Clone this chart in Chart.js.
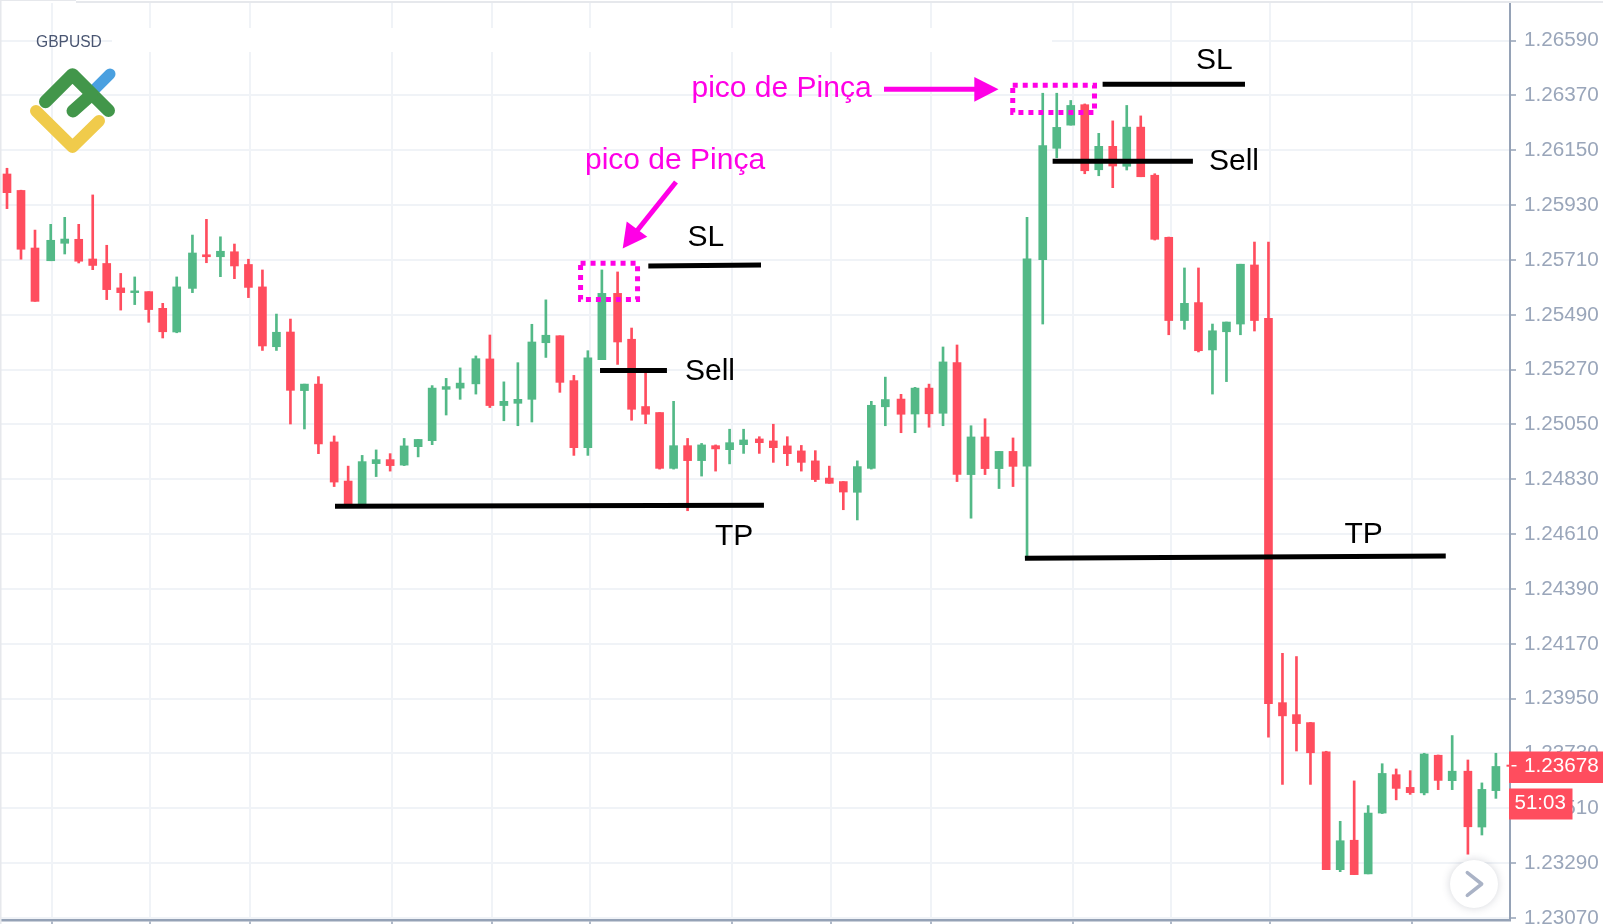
<!DOCTYPE html>
<html>
<head>
<meta charset="utf-8">
<title>GBPUSD</title>
<script src="https://cdn.jsdelivr.net/npm/chart.js@4/dist/chart.umd.min.js"></script>
<style>
  html, body { margin: 0; padding: 0; background: #fff; overflow: hidden; }
  #wrap { width: 1603px; height: 924px; }
  canvas { display: block; }
</style>
</head>
<body>
<div id="wrap"><canvas id="chart" width="1603" height="924"></canvas></div>
<script>
const opens = [
  1.26055, 1.25989, 1.25758, 1.25707, 1.25777, 1.25793, 1.25714, 1.25696, 1.25598, 1.25579,
  1.25583, 1.25516, 1.25421, 1.25596, 1.25731, 1.25723, 1.25743, 1.25692, 1.25602, 1.25362,
  1.25421, 1.25186, 1.25212, 1.24980, 1.24823, 1.24723, 1.24893, 1.24909, 1.24887, 1.24961,
  1.24985, 1.25191, 1.25196, 1.25213, 1.25313, 1.25126, 1.25135, 1.25151, 1.25378, 1.25406,
  1.25226, 1.24957, 1.25310, 1.25576, 1.25392, 1.25122, 1.25098, 1.24874, 1.24965, 1.24905,
  1.24965, 1.24949, 1.24969, 1.24992, 1.24984, 1.24964, 1.24944, 1.24904, 1.24835, 1.24821,
  1.24778, 1.24874, 1.25121, 1.25152, 1.25092, 1.25196, 1.25095, 1.25298, 1.24849, 1.25000,
  1.24873, 1.24942, 1.24883, 1.25711, 1.26158, 1.26251, 1.26333, 1.26072, 1.26166, 1.26086,
  1.26243, 1.26050, 1.25801, 1.25467, 1.25539, 1.25349, 1.25422, 1.25453, 1.25690, 1.25476,
  1.23934, 1.23886, 1.23854, 1.23737, 1.23264, 1.23382, 1.23247, 1.23491, 1.23645, 1.23594,
  1.23572, 1.23723, 1.23621, 1.23659, 1.23435, 1.23581
];
const highs = [
  1.26078, 1.25990, 1.25830, 1.25853, 1.25881, 1.25853, 1.25971, 1.25769, 1.25656, 1.25642,
  1.25583, 1.25536, 1.25642, 1.25810, 1.25873, 1.25803, 1.25774, 1.25713, 1.25670, 1.25493,
  1.25473, 1.25212, 1.25242, 1.25004, 1.24883, 1.24926, 1.24948, 1.24933, 1.24994, 1.24990,
  1.25206, 1.25235, 1.25277, 1.25325, 1.25409, 1.25221, 1.25298, 1.25452, 1.25550, 1.25406,
  1.25247, 1.25346, 1.25670, 1.25662, 1.25437, 1.25259, 1.25098, 1.25143, 1.24994, 1.24974,
  1.24968, 1.25031, 1.25031, 1.25001, 1.25051, 1.25001, 1.24966, 1.24945, 1.24883, 1.24821,
  1.24904, 1.25143, 1.25240, 1.25171, 1.25199, 1.25212, 1.25361, 1.25369, 1.25045, 1.25073,
  1.24942, 1.24996, 1.25881, 1.26379, 1.26379, 1.26350, 1.26336, 1.26218, 1.26268, 1.26330,
  1.26288, 1.26056, 1.25802, 1.25678, 1.25678, 1.25453, 1.25461, 1.25693, 1.25782, 1.25782,
  1.24132, 1.24119, 1.23855, 1.23739, 1.23458, 1.23620, 1.23521, 1.23689, 1.23668, 1.23661,
  1.23731, 1.23724, 1.23802, 1.23704, 1.23612, 1.23731
];
const lows = [
  1.25916, 1.25713, 1.25544, 1.25707, 1.25734, 1.25698, 1.25671, 1.25551, 1.25509, 1.25531,
  1.25460, 1.25397, 1.25418, 1.25579, 1.25699, 1.25643, 1.25635, 1.25559, 1.25347, 1.25347,
  1.25052, 1.25032, 1.24933, 1.24801, 1.24723, 1.24723, 1.24841, 1.24863, 1.24885, 1.24920,
  1.24969, 1.25088, 1.25151, 1.25172, 1.25118, 1.25065, 1.25045, 1.25060, 1.25319, 1.25179,
  1.24926, 1.24926, 1.25310, 1.25291, 1.25067, 1.25053, 1.24871, 1.24871, 1.24704, 1.24843,
  1.24863, 1.24892, 1.24934, 1.24934, 1.24898, 1.24885, 1.24863, 1.24821, 1.24814, 1.24708,
  1.24667, 1.24871, 1.25045, 1.25017, 1.25017, 1.25039, 1.25045, 1.24821, 1.24674, 1.24849,
  1.24793, 1.24801, 1.24513, 1.25453, 1.26120, 1.26251, 1.26056, 1.26048, 1.26000, 1.26071,
  1.26044, 1.25790, 1.25410, 1.25432, 1.25341, 1.25172, 1.25222, 1.25410, 1.25425, 1.23796,
  1.23606, 1.23740, 1.23606, 1.23264, 1.23256, 1.23244, 1.23247, 1.23489, 1.23544, 1.23566,
  1.23564, 1.23585, 1.23585, 1.23326, 1.23403, 1.23550
];
const closes = [
  1.25980, 1.25753, 1.25544, 1.25789, 1.25794, 1.25705, 1.25688, 1.25591, 1.25579, 1.25586,
  1.25511, 1.25422, 1.25602, 1.25738, 1.25723, 1.25745, 1.25686, 1.25600, 1.25365, 1.25420,
  1.25187, 1.25212, 1.24972, 1.24819, 1.24723, 1.24901, 1.24909, 1.24885, 1.24964, 1.24990,
  1.25196, 1.25202, 1.25216, 1.25314, 1.25126, 1.25143, 1.25151, 1.25381, 1.25408, 1.25219,
  1.24957, 1.25317, 1.25576, 1.25381, 1.25111, 1.25091, 1.24874, 1.24965, 1.24905, 1.24968,
  1.24952, 1.24977, 1.24988, 1.24977, 1.24957, 1.24933, 1.24898, 1.24829, 1.24814, 1.24779,
  1.24881, 1.25127, 1.25150, 1.25091, 1.25196, 1.25093, 1.25301, 1.24850, 1.25000, 1.24873,
  1.24942, 1.24882, 1.25715, 1.26169, 1.26242, 1.26330, 1.26068, 1.26166, 1.26087, 1.26243,
  1.26044, 1.25793, 1.25467, 1.25536, 1.25346, 1.25426, 1.25461, 1.25693, 1.25467, 1.23930,
  1.23881, 1.23850, 1.23733, 1.23264, 1.23380, 1.23244, 1.23491, 1.23650, 1.23590, 1.23573,
  1.23728, 1.23622, 1.23659, 1.23436, 1.23586, 1.23678
];

const priceTicks = [
  1.2659, 1.2637, 1.2615, 1.2593, 1.2571, 1.2549, 1.2527, 1.2505, 1.2483,
  1.2461, 1.2439, 1.2417, 1.2395, 1.2373, 1.2351, 1.2329, 1.2307
];
const dateGridSlots = [3.21, 10.21, 17.36, 27.5, 34.64, 41.64, 51.79, 58.86, 66, 76.14, 83.14, 90.21, 100.36];

// trade levels, as [slot, price] pairs
const slLeft = [[45.81, 1.25686], [53.86, 1.25690]];
const sellLeft = [[42.36, 1.25267], [47.14, 1.25267]];
const tpLeft = [[23.43, 1.24722], [54.07, 1.24726]];
const slRight = [[78.26, 1.26415], [88.43, 1.26415]];
const sellRight = [[74.69, 1.26106], [84.71, 1.26106]];
const tpRight = [[72.71, 1.24513], [102.77, 1.24522]];
const boxLeft = [[40.97, 1.25697], [45.04, 1.25697], [45.04, 1.25551], [40.97, 1.25551], [40.97, 1.25697]];
const boxRight = [[71.84, 1.26411], [77.68, 1.26411], [77.68, 1.26302], [71.84, 1.26302], [71.84, 1.26411]];

const lastPrice = '1.23678';
const countdown = '51:03';

const UP = '#53b987';
const DOWN = '#ff4d5e';
const GRID = '#f0f3f7';
const AXIS = '#95a2b6';
const MAGENTA = '#ff00e6';
const SANS = '"Liberation Sans", Arial, sans-serif';

// the feed has a short break every ten bars, so the spacing jumps a little there
const slots = opens.map((_, i) => i + 0.123 * Math.floor((i + 7) / 10));
const candleColor = closes.map((c, i) => (c >= opens[i] ? UP : DOWN));

const toPoints = pairs => pairs.map(p => ({ x: p[0], y: p[1] }));

function levelLine(pairs) {
  return {
    type: 'line',
    data: toPoints(pairs),
    borderColor: '#000',
    borderWidth: 5,
    borderCapStyle: 'butt',
    pointRadius: 0,
    order: 1
  };
}

function dottedBox(pairs) {
  return {
    type: 'line',
    data: toPoints(pairs),
    borderColor: MAGENTA,
    borderWidth: 5,
    borderDash: [5, 5],
    pointRadius: 0,
    order: 1
  };
}

function poly(ctx, pts, color) {
  ctx.fillStyle = color;
  ctx.beginPath();
  pts.forEach((p, i) => (i ? ctx.lineTo(p[0], p[1]) : ctx.moveTo(p[0], p[1])));
  ctx.closePath();
  ctx.fill();
}

function stroke(ctx, pts, color, width, cap) {
  ctx.strokeStyle = color;
  ctx.lineWidth = width;
  ctx.lineCap = cap || 'round';
  ctx.lineJoin = 'round';
  ctx.beginPath();
  pts.forEach((p, i) => (i ? ctx.lineTo(p[0], p[1]) : ctx.moveTo(p[0], p[1])));
  ctx.stroke();
}

function label(ctx, text, x, y, font, color, baseline) {
  ctx.font = font;
  ctx.fillStyle = color;
  ctx.textAlign = 'left';
  ctx.textBaseline = baseline || 'alphabetic';
  ctx.fillText(text, x, y);
}

// symbol caption strip hides part of the grid behind it
const captionMask = {
  id: 'captionMask',
  beforeDatasetsDraw(chart) {
    const ctx = chart.ctx;
    ctx.save();
    ctx.fillStyle = '#fff';
    ctx.fillRect(112, 28, 940, 24);
    ctx.fillStyle = '#e6e8ec';
    ctx.fillRect(76, 1, 1527, 2);
    ctx.fillRect(0, 0, 76, 1);
    ctx.fillRect(0, 0, 1.5, 924);
    ctx.restore();
  }
};

const overlay = {
  id: 'overlay',
  afterDraw(chart) {
    const ctx = chart.ctx;
    ctx.save();

    // logo
    stroke(ctx, [[96, 88], [110, 74]], '#4aa0e0', 11);
    stroke(ctx, [[45.5, 101.7], [72.5, 74.7], [108.5, 110.5]], '#42964a', 13);
    stroke(ctx, [[73, 111], [91, 95]], '#42964a', 13);
    stroke(ctx, [[36, 111], [72.5, 147], [99, 121]], '#f0cb4b', 12);
    label(ctx, 'GBPUSD', 36, 46.5, '15.6px ' + SANS, '#4a5672');

    // annotation arrows
    stroke(ctx, [[676, 182], [636, 232]], MAGENTA, 5, 'butt');
    poly(ctx, [[622.7, 248.5], [626.7, 221.5], [647.3, 236.7]], MAGENTA);
    stroke(ctx, [[884, 89.3], [976, 89.3]], MAGENTA, 5, 'butt');
    poly(ctx, [[974.3, 77], [998.5, 89.3], [974.3, 101.7]], MAGENTA);

    const big = '30px ' + SANS;
    label(ctx, 'pico de Pinça', 585, 169, big, MAGENTA);
    label(ctx, 'pico de Pinça', 691.5, 97.3, big, MAGENTA);
    label(ctx, 'SL', 687.5, 245.7, big, '#000');
    label(ctx, 'Sell', 685, 380, big, '#000');
    label(ctx, 'TP', 715, 545, big, '#000');
    label(ctx, 'SL', 1196, 69.3, big, '#000');
    label(ctx, 'Sell', 1209, 170, big, '#000');
    label(ctx, 'TP', 1344.5, 543, big, '#000');

    // last price and countdown tags
    ctx.fillStyle = DOWN;
    ctx.fillRect(1509, 751.5, 94, 31.5);
    ctx.fillRect(1506.5, 764.7, 3, 2);
    ctx.fillRect(1509, 788.5, 63.5, 31);
    ctx.fillStyle = '#fff';
    ctx.fillRect(1511.5, 765, 5, 1.5);
    label(ctx, lastPrice, 1524, 766, '20.7px ' + SANS, '#fff', 'middle');
    label(ctx, countdown, 1514.5, 803.5, '20.5px ' + SANS, '#fff', 'middle');

    // scroll button
    ctx.save();
    ctx.shadowColor = 'rgba(60,70,90,0.22)';
    ctx.shadowBlur = 8;
    ctx.fillStyle = '#fff';
    ctx.beginPath();
    ctx.arc(1474, 884, 24, 0, Math.PI * 2);
    ctx.fill();
    ctx.restore();
    stroke(ctx, [[1467.3, 872.7], [1481.7, 884], [1467.3, 895.3]], '#aab3c6', 3.5);

    ctx.restore();
  }
};

new Chart(document.getElementById('chart'), {
  type: 'bar',
  data: {
    datasets: [
      {
        data: slots.map((x, i) => ({ x, y: [lows[i], highs[i]] })),
        backgroundColor: candleColor,
        barThickness: 2,
        grouped: false,
        order: 3
      },
      {
        data: slots.map((x, i) => ({ x, y: [opens[i], closes[i]] })),
        backgroundColor: candleColor,
        barThickness: 8,
        grouped: false,
        order: 2
      },
      levelLine(slLeft),
      levelLine(sellLeft),
      levelLine(tpLeft),
      levelLine(slRight),
      levelLine(sellRight),
      levelLine(tpRight),
      dottedBox(boxLeft),
      dottedBox(boxRight)
    ]
  },
  options: {
    responsive: false,
    animation: false,
    layout: { padding: { top: 3 } },
    plugins: { legend: { display: false }, tooltip: { enabled: false } },
    scales: {
      x: {
        type: 'linear',
        offset: false,
        min: -0.5,
        max: 107.36,
        border: { color: AXIS, width: 2.5 },
        grid: { color: GRID, lineWidth: 2, offset: false, tickColor: AXIS, tickLength: 4, tickWidth: 1.5 },
        ticks: { display: false },
        afterBuildTicks: scale => { scale.ticks = dateGridSlots.map(value => ({ value })); },
        afterFit: scale => { scale.height = 4; }
      },
      y: {
        type: 'linear',
        position: 'right',
        min: 1.23062,
        max: 1.26741,
        border: { color: AXIS, width: 2 },
        grid: { color: GRID, lineWidth: 2, tickColor: AXIS, tickLength: 6, tickWidth: 1.5 },
        ticks: {
          autoSkip: false,
          padding: 8,
          color: '#9aa6ba',
          font: { family: SANS, size: 20.7 },
          callback: v => v.toFixed(5)
        },
        afterBuildTicks: scale => { scale.ticks = priceTicks.map(value => ({ value })); },
        afterFit: scale => {
          // the first and last labels may overhang the plot, no extra inset wanted
          scale.width = 93;
          scale.paddingTop = 0;
          scale.paddingBottom = 0;
        }
      }
    }
  },
  plugins: [captionMask, overlay]
});
</script>
</body>
</html>
